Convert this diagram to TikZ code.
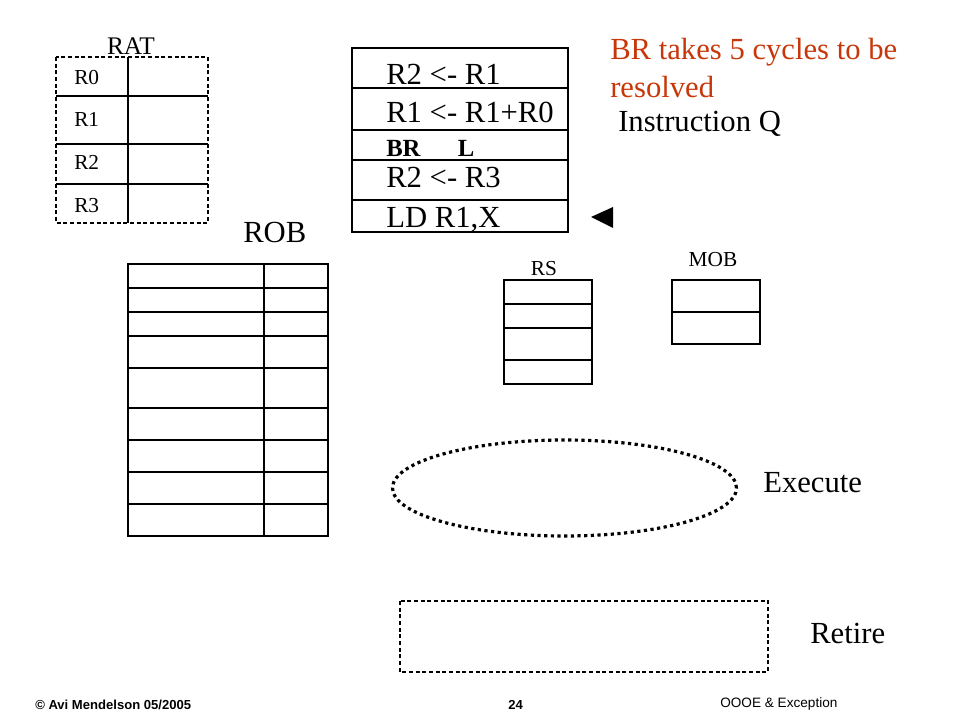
\documentclass[tikz,border=0pt]{standalone}
\usepackage{fontspec}
\setmainfont{Liberation Serif}
\setsansfont{Liberation Sans}
\definecolor{brred}{RGB}{200,55,10}

\begin{document}
\begin{tikzpicture}[x = .75pt, y = -.75pt,
  big/.style = {font = \fontsize{23}{27}\selectfont, inner sep = 0pt, anchor = base west},
  small/.style = {font = \fontsize{16}{19}\selectfont, inner sep = 0pt},
  foot/.style = {font = \sffamily\fontsize{10.2}{12}\selectfont, inner sep = 0pt, anchor = base west},
  cell/.style = {line width = 1.1pt},
  robcell/.style = {line width = 1.5pt},
  dashbox/.style = {line width = .8pt, dash pattern = on 3pt off 2pt}]
\useasboundingbox (0,0) rectangle (960,720);

% RAT
\node[anchor = base, inner sep = 0pt, font = \fontsize{19}{22}\selectfont] (rat) at (131,55) {RAT};
\draw[dashbox] (56,57) rectangle (208,223);
\draw[cell] (128,57) -- (128,223);
\foreach \y in {96,144,184} \draw[cell] (56,\y) -- (208,\y);
\foreach \r/\y in {0/85,1/127,2/170,3/213}
  \node[small, anchor = base west] (reg\r) at (74,\y) {R\r};

% instruction queue
\draw[cell] (352,48) rectangle (568,232);
\foreach \y in {88,130,160,200} \draw[cell] (352,\y) -- (568,\y);
\node[big] (inst1) at (386,85) {R2 <- R1};
\node[big] (inst2) at (386,123) {R1 <- R1+R0};
\node[big, font = \fontsize{18.5}{21}\selectfont\bfseries] (inst3) at (386,157) {BR\hspace{28pt}L};
\node[big] (inst4) at (386,188) {R2 <- R3};
\node[big] (inst5) at (386,228) {LD R1,X};
\fill (591,217) -- (613,207) -- (613,228) -- cycle;

\node[big, text = brred] (note1) at (610,60) {BR takes 5 cycles to be};
\node[big, text = brred] (note2) at (610,98) {resolved};
\node[big] (iq) at (618,132) {Instruction Q};

% ROB
\node[big] (rob) at (243,243) {ROB};
\draw[robcell] (128,264) rectangle (328,536);
\draw[robcell] (264,264) -- (264,536);
\foreach \y in {288,312,336,368,408,440,472,504} \draw[robcell] (128,\y) -- (328,\y);

% RS and MOB
\node[small, anchor = base] (rs) at (544,276) {RS};
\draw[cell] (504,280) rectangle (592,384);
\foreach \y in {304,328,360} \draw[cell] (504,\y) -- (592,\y);
\node[small, anchor = base] (mob) at (713,267) {MOB};
\draw[cell] (672,280) rectangle (760,344);
\draw[cell] (672,312) -- (760,312);

% execute / retire
\draw[line width = 2.4pt, dash pattern = on 2.4pt off 2.6pt] (564.5,488) ellipse [x radius = 129pt, y radius = 36pt];
\node[big] (exec) at (763,492) {Execute};
\draw[dashbox] (400,601) rectangle (768,672);
\node[big] (retire) at (810,643) {Retire};

% footer
\node[foot, font = \sffamily\bfseries\fontsize{9.8}{12}\selectfont] (copy) at (35,709) {© Avi Mendelson 05/2005};
\node[foot, font = \sffamily\bfseries\fontsize{9.8}{12}\selectfont] (page) at (508,709) {24};
\node[foot] (title) at (720,707) {OOOE \& Exception};
\end{tikzpicture}
\end{document}
